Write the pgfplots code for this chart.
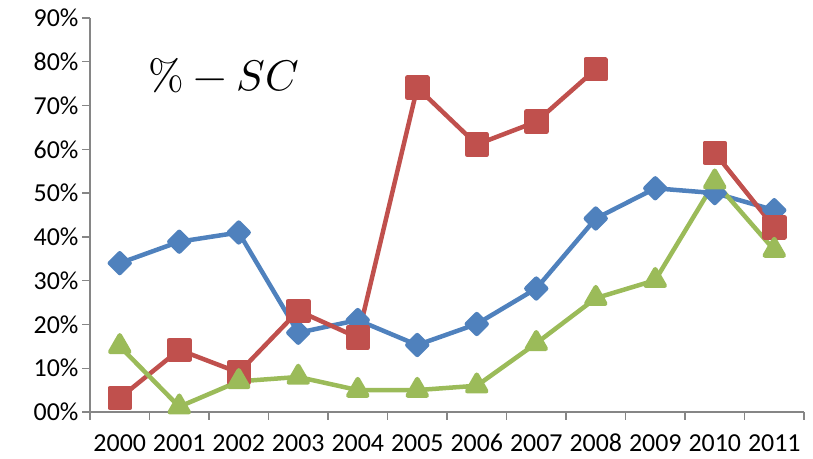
\documentclass[border=0pt]{standalone}
\usepackage{fontspec}
\usepackage{unicode-math}
\setmainfont{Carlito}
\setmathfont{latinmodern-math.otf}
\usepackage{pgfplots}
\pgfplotsset{compat=1.18}
\definecolor{sblue}{HTML}{4F81BD}
\definecolor{sred}{HTML}{C0504D}
\definecolor{sgreen}{HTML}{9BBB59}
\definecolor{axgray}{HTML}{868686}
\begin{document}
\begin{tikzpicture}[x=1bp,y=1bp]
\useasboundingbox (0,0) rectangle (813,459);
\begin{axis}[
  at={(90bp,47bp)}, anchor=south west,
  scale only axis, width=714bp, height=394bp,
  xmin=-0.5, xmax=11.5, ymin=0, ymax=90,
  axis x line=bottom, axis y line=left,
  axis line style={-, axgray, line width=1.3bp},
  xtick={-0.5,0.5,...,11.5},
  xticklabels={2000,2001,2002,2003,2004,2005,2006,2007,2008,2009,2010,2011},
  x tick label as interval,
  ytick={0,10,...,90},
  yticklabels={00\%,10\%,20\%,30\%,40\%,50\%,60\%,70\%,80\%,90\%},
  tick align=outside, major tick length=8bp,
  tick style={axgray, line width=1.3bp},
  ticklabel style={font=\fontsize{26}{30}\selectfont, text=black},
  xticklabel style={inner sep=0pt, yshift=-14bp},
  unbounded coords=jump,
  clip=false,
]
\addplot[sblue, line width=4.5bp, line join=round, mark=square*, mark size=7bp, mark options={rotate=45, solid}] coordinates {
(0,34) (1,38.9) (2,41) (3,18.1) (4,21) (5,15.3) (6,20.1) (7,28.2) (8,44.2) (9,51.1) (10,50) (11,46.1)};
\addplot[sred, line width=4.5bp, line join=round, mark=square*, mark size=10bp, mark options={solid}] coordinates {
(0,3.2) (1,14.2) (2,9) (3,23.1) (4,17) (5,74.1) (6,61.1) (7,66.3) (8,78.3) (9,nan) (10,59.2) (11,42.2)};
\addplot[sgreen, line width=4.5bp, line join=round, mark=triangle*, mark size=11bp, mark options={solid}] coordinates {
(0,15) (1,1.2) (2,7) (3,8) (4,5) (5,5) (6,6) (7,15.7) (8,26) (9,30.1) (10,52.6) (11,37)};
\end{axis}
\node[font=\fontsize{43}{48}\selectfont] at (224,383) {$\%-SC$};
\end{tikzpicture}
\end{document}
